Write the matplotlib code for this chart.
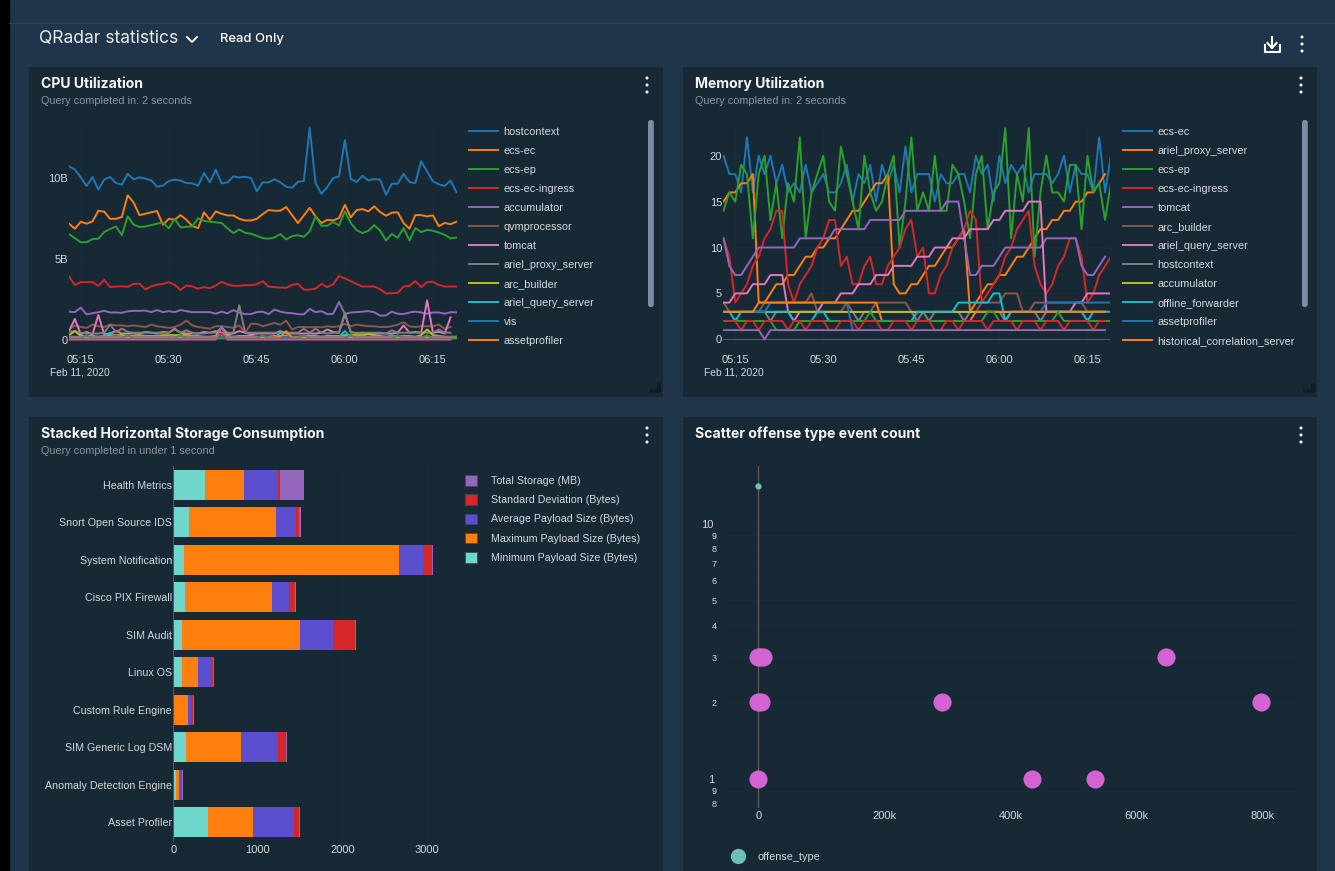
import numpy as np
import matplotlib
matplotlib.use("Agg")
import matplotlib.pyplot as plt
from matplotlib.patches import Rectangle, FancyBboxPatch, Circle, Patch
from matplotlib.lines import Line2D

W, H = 1335, 871
nan = np.nan

# ---- CPU utilization, values in billions, one point per minute from 05:13
cpu_hostcontext = [10.72,10.52,10.04,9.51,10.06,9.28,9.90,10.06,9.69,9.59,10.25,9.92,10.04,9.96,9.86,9.46,9.53,9.81,9.90,9.84,9.69,9.67,9.53,10.31,9.73,10.52,9.67,9.73,10.10,10.04,10.08,10.0,9.18,9.73,9.73,9.92,9.73,9.46,9.40,9.77,9.81,13.09,9.69,9.03,9.44,10.0,10.10,12.33,9.94,9.75,10.14,9.84,9.94,9.90,8.97,9.65,9.65,10.25,9.75,9.69,11.03,10.41,9.79,9.61,9.51,9.84,9.13]
cpu_ecs_ec = [7.18,6.87,7.30,7.18,7.32,7.98,7.92,7.48,7.48,7.59,8.93,8.49,7.71,7.79,7.88,7.96,7.11,7.48,7.42,7.71,7.42,7.03,6.91,7.88,7.42,7.94,7.79,7.69,7.69,7.48,7.38,7.38,7.48,7.77,8.02,7.98,7.98,8.21,7.71,7.22,7.69,8.16,7.63,7.22,7.42,7.38,7.53,8.35,7.57,8.02,8.08,7.94,8.25,7.90,7.67,7.86,7.88,7.22,6.87,7.71,7.71,7.63,7.69,7.03,7.22,7.15,7.30]
cpu_ecs_ep = [6.54,6.29,6.04,6.04,6.23,6.25,6.66,6.85,7.01,6.47,7.63,7.13,6.97,7.01,7.09,7.18,7.24,6.89,7.48,6.95,6.99,7.01,7.51,7.36,7.30,7.26,7.22,6.89,6.60,6.82,6.62,6.56,6.43,6.29,6.25,6.33,6.54,6.21,6.41,6.47,6.37,6.70,7.63,7.05,7.05,7.28,7.07,7.94,7.22,6.78,6.60,6.74,7.09,6.76,6.14,6.54,6.31,6.91,6.14,6.91,6.66,6.80,6.74,6.64,6.49,6.27,6.33]
cpu_ingress = [3.92,3.40,3.57,3.57,3.57,3.34,3.71,3.26,3.30,3.32,3.28,3.46,3.48,3.13,3.30,3.42,3.46,3.57,3.40,3.09,3.36,3.30,3.17,3.26,3.20,3.36,3.59,3.44,3.34,3.34,3.38,3.38,3.44,3.63,3.30,3.26,3.24,3.22,3.40,3.46,3.11,3.11,3.17,3.46,3.26,3.44,3.95,3.80,3.63,3.46,3.30,3.30,3.30,3.13,2.87,2.89,2.91,3.30,3.34,3.63,3.26,3.57,3.59,3.40,3.30,3.30,3.30]
cpu_accumulator = [1.75,1.72,2.0,1.58,1.65,1.72,1.8,1.7,1.7,1.68,1.77,1.8,1.8,1.82,1.72,1.85,1.72,1.78,1.72,1.85,1.78,1.72,1.72,1.72,1.72,1.62,1.75,1.65,1.85,1.68,1.6,1.6,1.72,1.75,1.6,1.88,1.75,1.68,1.65,1.6,1.58,1.92,1.72,1.78,1.6,1.62,2.35,1.6,1.7,1.72,1.75,1.78,1.72,1.5,1.52,1.75,1.62,1.6,1.7,1.75,1.7,1.62,1.7,1.7,1.62,1.72,1.7]
cpu_qvm = [.65,.9,.8,.75,.95,.85,.8,.95,.9,.9,.85,.9,.85,.8,.95,.85,.8,.75,.8,.95,1.2,.9,.8,.75,.7,.85,.85,.8,.75,.9,.45,1.0,1.0,.85,.95,1.05,.95,1.2,.65,.8,.8,.78,.8,.78,.85,.8,.85,1.0,.85,.95,.9,.85,.85,.8,.8,.85,.95,1.1,.85,.8,.85,.85,.85,.95,.7,.8]
cpu_tomcat = [.55,1.3,.35,.5,.35,1.55,.35,.4,.55,.4,.4,.4,.4,.5,.45,.4,.5,.45,.7,.45,.4,.4,.4,.5,.45,.55,.45,.35,.4,.55,.45,.35,.4,.4,.4,.4,.55,.4,.4,.4,.4,.4,.4,.45,.65,.5,.45,1.6,.5,.4,.45,.4,.4,.4,.4,.4,.45,.9,.45,.5,.45,2.45,.45,.5,.4,1.4]
cpu_proxy = [.5,.55,.45,.4,.4,.4,.45,.95,.5,.7,.5,.45,.45,.45,.45,.45,.45,.45,.65,.45,.6,.45,.4,.4,.45,.45,.75,.45,.45,2.15,.45,.45,.45,.45,.45,.45,.45,.45,.45,.45,.7,.45,.7,.45,.4,.45,.45,1.7,.45,.45,.45,.45,.45,.45,.4,.6,.45,.45,.45,.45,.45,.45,.45,.65,.45,.45]
cpu_arc = [.3,.55,.25,.25,.25,.2,.25,.3,.3,.3,.25,.25,.3,.25,.25,.25,.3,.3,.3,.3,.3,.25,.25,.2,.2,.25,.8,.25,.2,.25,.25,.25,.2,.2,.2,.25,.25,.25,.2,.2,.25,.25,.25,.2,.25,.25,.25,.3,.3,.3,.3,.35,.3,.25,.2,.25,.2,.25,.25,.2,.3,.65,.3,.25,.2,.2,.2]
cpu_query = [.2,.2,.15,.15,.15,.15,.2,.45,.15,.2,.15,.2,.15,.15,.15,.2,.15,.2,.15,.25,.15,.15,.15,.15,.15,.15,.3,.15,.15,.15,.2,.15,.15,.15,.15,.15,.45,.45,.15,.15,.15,.15,.15,.15,.15,.15,.2,.55,.15,.15,.15,.15,.15,.15,.15,.3,.15,.15,.15,.15,.15,.15,.15,.15,.15,.15,.15]
cpu_vis = [.2,.2,.2,.2,.2,.2,.2,.2,.25,.2,.2,.2,.2,.2,.2,.2,.2,.2,.2,.2,.2,.2,.2,.2,.2,.2,.2,.2,.2,.2,.2,.2,.2,.2,.2,.2,.2,.2,.2,.2,.2,.2,.2,.2,.2,.2,.2,.2,.2,.2,.2,.2,.2,.2,.2,.2,.2,.2,.2,.2,.2,.2,.2,.2,.2,.2,.2]
cpu_asset = [.15,.15,.15,.15,.15,.15,.15,.15,.15,.15,.15,.15,.15,.15,.15,.15,.15,.15,.15,.15,.15,.15,.15,.15,.15,.15,.35,.15,.15,.15,.15,.15,.15,.15,.15,.15,.2,.55,.15,.15,.15,.15,.15,.15,.15,.15,.15,.15,.15,.15,.15,.15,.15,.15,.15,.15,.15,.15,.15,.15,.15,.15,.15,.15,.15,.15,.15]
cpu_extra1 = [.1,.1,.1,.3,.1,.1,.1,.1,.1,.1,.3,.1,.1,.1,.1,.1,.1,.1,.1,.3,.1,.1,.1,.1,.1,.1,.1,.1,.1,.1,.1,.1,.1,.3,.1,.1,.1,.1,.1,.1,.3,.1,.1,.1,.1,.1,.1,.1,.3,.1,.1,.1,.1,.1,.1,.1,.3,.1,.1,.1,.1,.3,.1,.1,.1,.1,.1]
cpu_extra2 = [.05,.05,.05,.05,.05,.05,.05,.05,.05,.05,.05,.05,.05,.05,.05,.05,.05,.05,.05,.05,.05,.05,.05,.05,.05,.05,.4,.05,.05,.05,.05,.05,.05,.05,.05,.05,.05,.05,.05,.05,.05,.05,.05,.05,.05,.05,.05,.05,.05,.05,.05,.05,.05,.05,.05,.05,.05,.05,.05,.05,.05,.05,.05,.05,.05,.05]
cpu_extra3 = [.03,.03,.03,.03,.03,.03,.03,.03,.03,.03,.03,.03,.03,.03,.03,.03,.03,.03,.03,.03,.03,.03,.03,.03,.03,.03,.8,.03,.03,.03,.03,.03,.03,.03,.03,.03,.03,.03,.03,.03,.03,.03,.03,.03,.03,.03,.03,.03,.03,.03,.03,.03,.03,.03,.03,.03,.03,.03,.03,.03,.03,.03,.03,.03,.03,.03]
cpu_series = [cpu_hostcontext, cpu_ecs_ec, cpu_ecs_ep, cpu_ingress, cpu_accumulator, cpu_qvm, cpu_tomcat,
              cpu_proxy, cpu_arc, cpu_query, cpu_vis, cpu_asset, cpu_extra1, cpu_extra2, cpu_extra3]
cpu_names = ["hostcontext", "ecs-ec", "ecs-ep", "ecs-ec-ingress", "accumulator", "qvmprocessor", "tomcat",
             "ariel_proxy_server", "arc_builder", "ariel_query_server", "vis", "assetprofiler"]

# ---- memory utilization
mem_ecs_ec = [20,18,18,16,22,16,20,18,20,17,19,16,17,16,19,16,17,18,16,16,17,19,15,18,17,19,15,19,17,19,16,21,16,18,18,18,15,18,17,17,18,18,16,20,18,19,15,20,17,19,18,19,16,18,18,18,17,18,20,16,19,18,18,16,22,16,20]
mem_proxy = [15,16,16,17,17,18,4,4,5,6,6,7,7,8,9,9,10,10,11,11,12,13,14,14,15,16,17,17,18,6,5,5,6,6,7,8,8,9,10,10,11,12,3,4,5,6,6,7,7,8,9,9,10,11,12,12,13,13,14,14,15,15,16,16,17,18]
mem_ecs_ep = [14,16,15,19,18,11,18,20,13,17,11,17,15,22,11,16,18,20,15,14,21,18,15,12,20,16,14,15,18,20,10,15,22,14,16,14,20,14,14,19,18,15,11,18,20,12,16,17,23,11,18,15,23,9,16,20,16,16,15,19,19,12,20,16,17,13,17]
mem_ingress = [11,9,4,5,6,8,9,11,12,14,14,6,4,6,7,8,10,11,13,13,8,9,6,6,8,9,6,6,8,9,10,12,13,9,10,5,5,7,8,10,11,12,14,13,4,5,6,7,9,10,12,13,14,8,6,5,6,8,9,11,11,9,4,5,7,8,9]
mem_tomcat = [11,8,7,7,8,9,10,10,10,10,10,10,10,11,11,11,11,11,11,12,12,12,12,12,12,13,13,13,13,13,13,14,14,14,14,14,14,14,15,15,15,11,7,7,8,8,8,9,10,10,10,10,10,10,10,11,11,11,11,11,11,8,7,7,8,9]
mem_arc = [4,3,3,3,3,3,3,4,4,4,4,4,4,4,4,5,3,3,3,3,3,4,3,3,3,3,4,4,4,4,4,4,3,3,3,3,3,3,3,3,3,3,3,3,4,4,4,4,5,5,5,3,3,4,4,4,4,4,4,4,4,4,3,3,3,3]
mem_query = [4,4,5,5,5,6,6,6,7,7,7,3,2,3,3,3,3,4,4,4,5,5,5,6,6,6,7,7,7,8,8,8,8,9,9,9,10,10,10,11,11,11,12,12,12,12,13,13,14,14,14,14,15,15,15,3,3,3,3,3,4,4,5,5,5,5,5]
mem_hostcontext = [3,3,3,3,3,3,3,3,2,3,3,3,3,3,3,3,3,3,3,3,3,3,3,2,3,3,3,3,3,3,3,3,3,2,3,2,3,3,3,3,3,2,3,3,3,3,3,3,2,3,3,3,3,3,2,3,3,3,3,3,3,3,3,3,3,3]
mem_accumulator = [3,3,3,3,3,3,3,3,3,3,3,3,3,3,3,3,3,3,3,3,3,3,3,3,3,3,3,3,3,3,3,3,3,3,3,3,3,3,3,3,3,3,3,3,3,3,3,3,3,3,3,3,3,3,3,3,3,3,3,3,3,3,3,3,3,3]
mem_offline = [3,3,2,3,3,3,3,3,3,3,3,3,2,2,2,2,3,3,2,2,2,2,2,2,2,2,2,2,2,2,2,2,2,3,3,3,3,3,3,3,4,4,4,4,4,4,5,5,2,3,3,3,3,3,3,3,3,3,3,3,3,3,2,3,3,3,3]
mem_asset = [nan,nan,nan,nan,nan,3,3,3,4,4,4,4,4,4,4,4,4,4,4,4,4,4,1,nan,nan,nan,nan,nan,nan,nan,nan,nan,nan,nan,nan,nan,nan,nan,nan,nan,nan,nan,nan,nan,nan,nan,nan,nan,nan,nan,nan,nan,nan,nan,3,4,4,4,4,4,4,4,4,4,4,4,4]
mem_historical = [3,3,3,3,3,3,4,4,4,4,4,4,4,4,4,4,4,4,4,4,4,4,4,4,4,4,4,2,2,2,2,2,2,2,2,2,2,2,2,2,2,2,2,3,3,3,3,3,3,3,3,3,3,3,3,3,3,3,3,3,3,3,3,3,3,3]
mem_extra1 = [2,2,2,2,2,2,2,2,2,1,1,1,1,2,2,2,2,2,2,2,2,2,2,2,2,3,2,2,2,2,2,2,2,2,2,2,2,2,2,2,2,2,2,2,2,3,3,2,2,2,2,2,2,2,2,2,2,3,2,2,2,2,2,2,2,2,2]
mem_extra2 = [2,2,2,1,2,2,1,2,2,2,2,1,2,2,1,2,2,2,1,1,2,2,2,1,2,2,2,1,1,2,2,2,1,2,2,2,1,1,2,2,1,2,2,2,2,1,2,2,2,2,1,2,2,2,1,2,2,2,1,2,2,2,2,1,2,2]
mem_extra3 = [1,1,1,1,1,1,1,0,1,1,1,1,1,1,1,1,1,1,1,1,1,1,1,1,1,1,1,1,1,1,1,1,1,1,1,1,1,1,1,1,1,1,1,1,1,1,1,1,1,1,1,1,1,1,1,1,1,1,1,1,1,1,1,1,1,1]
mem_series = [mem_ecs_ec, mem_proxy, mem_ecs_ep, mem_ingress, mem_tomcat, mem_arc, mem_query, mem_hostcontext,
              mem_accumulator, mem_offline, mem_asset, mem_historical, mem_extra1, mem_extra2, mem_extra3]
mem_names = ["ecs-ec", "ariel_proxy_server", "ecs-ep", "ecs-ec-ingress", "tomcat", "arc_builder", "ariel_query_server",
             "hostcontext", "accumulator", "offline_forwarder", "assetprofiler", "historical_correlation_server"]

start_minute = 5 * 60 + 13
time_ticks = [315, 330, 345, 360, 375]
time_labels = ["05:15", "05:30", "05:45", "06:00", "06:15"]

# ---- storage bars
log_sources = ["Health Metrics", "Snort Open Source IDS", "System Notification", "Cisco PIX Firewall", "SIM Audit",
               "Linux OS", "Custom Rule Engine", "SIM Generic Log DSM", "Anomaly Detection Engine", "Asset Profiler"]
min_payload = [374, 185, 126, 138, 102, 102, 0, 150, 32, 410]
max_payload = [461, 1029, 2542, 1029, 1395, 189, 173, 650, 35, 532]
avg_payload = [402, 236, 284, 205, 390, 158, 39, 437, 39, 485]
std_dev = [24, 35, 106, 71, 260, 24, 24, 95, 2, 59]
total_storage = [284, 24, 12, 8, 12, 8, 8, 12, 8, 12]
bar_names = ["Minimum Payload Size (Bytes)", "Maximum Payload Size (Bytes)", "Average Payload Size (Bytes)",
             "Standard Deviation (Bytes)", "Total Storage (MB)"]
bar_colors = ["#6fd6cb", "#ff7f0e", "#5b4fd0", "#d62728", "#9467bd"]

# ---- scatter
scatter_x = [0, 3000, 8000, 0, 4000, 291000, 798000, 647000, 0, 434000, 534000]
scatter_y = [3, 3, 3, 2, 2, 2, 2, 3, 1, 1, 1]
top_x = [0]
top_y = [14]

BG = "#20354a"
PANEL = "#172935"
TICK = "#d3d8db"
GRID = "#1c2d39"
COLORS = ["#1f77b4", "#ff7f0e", "#2ca02c", "#d62728", "#9467bd", "#8c564b", "#e377c2", "#7f7f7f", "#bcbd22", "#17becf"]

plt.rcParams["font.family"] = "Liberation Sans"
plt.rcParams["font.size"] = 8

fig = plt.figure(figsize=(W / 100, H / 100), dpi=100, facecolor=BG)


def px_axes(x0, y0, x1, y1):
    return fig.add_axes([x0 / W, 1 - y1 / H, (x1 - x0) / W, (y1 - y0) / H], facecolor="none")


def clean(ax):
    for s in ax.spines.values():
        s.set_visible(False)
    ax.tick_params(length=0, colors=TICK, labelsize=8)


# page layer in pixel coordinates
page = fig.add_axes([0, 0, 1, 1], facecolor="none")
page.set_xlim(0, W)
page.set_ylim(H, 0)
page.axis("off")
page.add_patch(Rectangle((0, 0), 9, H, color="#000000"))
page.plot([9, W], [23, 23], color="#2d4459", lw=0.8)
for px, py, pw, ph in [(29, 67, 634, 330), (683, 67, 634, 330), (29, 417, 634, 454), (683, 417, 634, 454)]:
    page.add_patch(Rectangle((px, py), pw, ph, color=PANEL, lw=0))

page.text(39, 38.5, "QRadar statistics", color="#e8ecef", fontsize=12.6, family="Inter", weight="normal", va="center")
page.plot([187, 192, 197], [37, 42, 37], color="white", lw=1.3)
page.text(220, 39, "Read Only", color="white", fontsize=9.4, family="Inter", weight="medium", va="center")

titles = [(41, 83, "CPU Utilization", "Query completed in: 2 seconds"),
          (695, 83, "Memory Utilization", "Query completed in: 2 seconds"),
          (41, 433, "Stacked Horizontal Storage Consumption", "Query completed in under 1 second"),
          (695, 433, "Scatter offense type event count", "")]
for tx, ty, title, sub in titles:
    page.text(tx, ty + 1, title, color="#f2f4f5", fontsize=10.1, family="Inter", weight="bold", va="center")
    if sub:
        page.text(tx, ty + 17.5, sub, color="#8b969d", fontsize=7.8, va="center")

for kx, ky in [(647, 85), (1301, 85), (647, 435), (1301, 435), (1302, 44)]:
    for off in (-7, 0, 7):
        page.add_patch(Circle((kx, ky + off), 1.5, color="white", lw=0))

for sx in (648, 1302):
    page.add_patch(FancyBboxPatch((sx, 120), 5.8, 187, boxstyle="round,pad=0,rounding_size=2.5",
                                  mutation_aspect=1, color="#7d8ba3", lw=0))
for cx in (660, 1314):
    page.plot([cx - 11, cx - 1, cx - 1], [391, 391, 383], color="#0f1d27", lw=3, solid_capstyle="butt")

page.plot([1265, 1265, 1279.5, 1279.5], [45, 52, 52, 45], color="white", lw=1.5)
page.plot([1272, 1272], [37, 48], color="white", lw=1.5)
page.plot([1267.5, 1272, 1276.5], [43, 48, 43], color="white", lw=1.5)

page.text(80, 372, "Feb 11, 2020", color=TICK, fontsize=7.4, ha="center", va="center")
page.text(734, 372, "Feb 11, 2020", color=TICK, fontsize=7.4, ha="center", va="center")


def line_panel(x0, x1, zero_px, px_per_unit, series, names, yticks, ylabels, legend_x):
    top, bottom = 124, 346
    ax = px_axes(x0, top, x1, bottom)
    clean(ax)
    lines = []
    for i, values in enumerate(series):
        x = start_minute + np.arange(len(values))
        lines += ax.plot(x, values, color=COLORS[i % 10], lw=1.4, solid_joinstyle="round")
    ax.set_xlim(start_minute, start_minute + (x1 - x0) / 5.87)
    ax.set_ylim((zero_px - bottom) / px_per_unit, (zero_px - top) / px_per_unit)
    ax.set_xticks(time_ticks, time_labels)
    ax.set_yticks(yticks, ylabels)
    ax.grid(color=GRID, lw=0.6)
    ax.set_axisbelow(True)
    ax.tick_params(axis="x", pad=6.5)
    ax.tick_params(axis="y", pad=1)
    ax.legend(lines[:12], names, loc="upper left", bbox_to_anchor=(legend_x / W, 1 - 127 / H),
              bbox_transform=fig.transFigure, frameon=False, fontsize=7.8, labelcolor="#d5dadd",
              handlelength=2.7, handletextpad=0.5, labelspacing=0.83, borderpad=0, borderaxespad=0)
    return ax


cpu_ax = line_panel(69, 457, 340, 16.2, cpu_series, cpu_names, [0, 5, 10], ["0", "5B", "10B"], 469)
mem_ax = line_panel(723.5, 1110, 339.3, 9.18, mem_series, mem_names, [0, 5, 10, 15, 20], ["0", "5", "10", "15", "20"], 1123)
mem_ax.axhline(0, color="#4d5a63", lw=0.8, zorder=1)

# stacked bars
bar_ax = px_axes(173.3, 466.3, 440, 840.7)
clean(bar_ax)
bar_ax.spines["left"].set_visible(True)
bar_ax.spines["left"].set_color("#4d5a63")
left = np.zeros(len(log_sources))
bar_y = np.arange(len(log_sources))
for vals, name, col in zip([min_payload, max_payload, avg_payload, std_dev, total_storage], bar_names, bar_colors):
    bar_ax.barh(bar_y, vals, left=left, height=0.8, color=col, label=name, lw=0)
    left += np.array(vals)
bar_ax.set_xlim(0, 266.7 / 0.08455)
bar_ax.set_ylim(9.5, -0.5)
bar_ax.set_yticks(bar_y, log_sources)
bar_ax.set_xticks([0, 1000, 2000, 3000], ["0", "1000", "2000", "3000"])
bar_ax.grid(axis="x", color=GRID, lw=0.6)
bar_ax.set_axisbelow(True)
bar_ax.tick_params(axis="x", pad=3)
bar_ax.tick_params(axis="y", pad=1, labelsize=7.7)
handles = [Patch(facecolor=c, edgecolor="#3a4a66", lw=0.6) for c in bar_colors[::-1]]
bar_ax.legend(handles, bar_names[::-1], loc="upper left", bbox_to_anchor=(465 / W, 1 - 475 / H),
              bbox_transform=fig.transFigure, frameon=False, fontsize=7.7, labelcolor="#d5dadd",
              handlelength=1.15, handleheight=1.15, handletextpad=1.27, labelspacing=0.78,
              borderpad=0, borderaxespad=0)

# scatter, log y
sc_ax = px_axes(725, 466, 1300, 808)
clean(sc_ax)
sc_ax.set_yscale("log")
sc_ax.axvline(0, color="#5f5a55", lw=0.9, zorder=1)
sc_ax.scatter(scatter_x, scatter_y, s=170, color="#d362d3", lw=0, zorder=3)
sc_ax.scatter(top_x, top_y, s=20, color="#6cc5b6", lw=0, zorder=3)
sc_ax.set_xlim(-33.3 / 126 * 200000, 541.7 / 126 * 200000)
sc_ax.set_ylim(10 ** ((779 - 808) / 255.5), 10 ** ((779 - 466) / 255.5))
sc_ax.set_xticks([0, 200000, 400000, 600000, 800000], ["0", "200k", "400k", "600k", "800k"])
sc_ax.set_yticks([1, 10], ["1", "10"])
sc_ax.set_yticks([.8, .9, 2, 3, 4, 5, 6, 7, 8, 9], ["8", "9", "2", "3", "4", "5", "6", "7", "8", "9"], minor=True)
sc_ax.tick_params(axis="y", which="both", length=0, colors=TICK)
sc_ax.tick_params(axis="y", which="major", pad=8, labelsize=8)
sc_ax.tick_params(axis="y", which="minor", pad=6, labelsize=6.5)
sc_ax.tick_params(axis="x", pad=2.5)
sc_ax.grid(axis="y", which="both", color=GRID, lw=0.6)
sc_ax.set_axisbelow(True)
sc_ax.legend([Line2D([], [], marker="o", ls="", ms=11, color="#6cc0b4", mew=0)], ["offense_type"], loc="center left",
             bbox_to_anchor=(733 / W, 1 - 857 / H), bbox_transform=fig.transFigure, frameon=False, fontsize=7.8,
             labelcolor="#d5dadd", handlelength=1.0, handletextpad=1.25, borderpad=0, borderaxespad=0)

fig.savefig("out.png", dpi=100, facecolor=BG)
